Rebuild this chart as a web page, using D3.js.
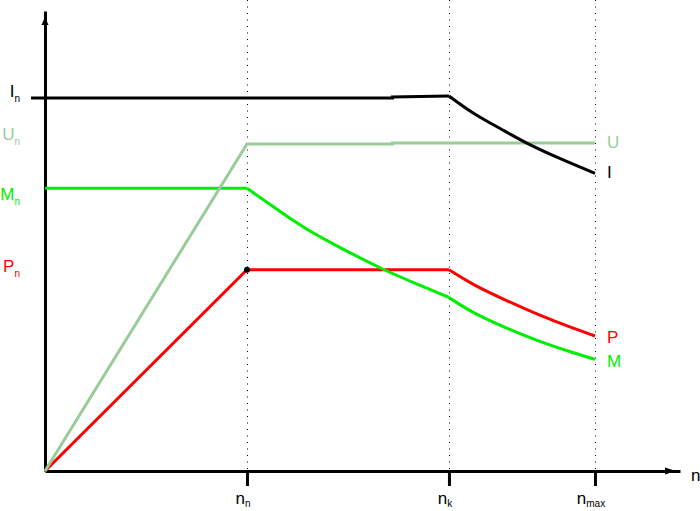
<!DOCTYPE html>
<html><head><meta charset="utf-8">
<script src="https://cdn.jsdelivr.net/npm/d3@7"></script>
<style>body{margin:0;background:#fff}svg{display:block}text{font-family:"Liberation Sans",Arial,sans-serif}</style>
</head><body>
<script>
// ---- data ----
const nTicks = [1, 2, 2.723];
const nTickLabels = ["n", "n", "n"];
const nTickSubs = ["n", "k", "max"];
const nAxisMax = 3.144;
const valueMax = 100;

const uLine  = [[0,0],[1,71.09],[1.72,71.09],[1.72,71.30],[2.723,71.30]];
const mFlat  = [[0,61.46],[1,61.46]];
const mCurve1 = [[1,61.46],[1.130,57.46],[1.2955,52.39],[1.460,48.59],[1.675,43.70],[1.873,40.07],[2,37.72]];
const mCurve2 = [[2,37.72],[2.120,34.28],[2.286,31.02],[2.450,28.11],[2.615,25.72],[2.723,24.28]];
const pLine  = [[0,0],[1,43.75],[2,43.75]];
const pCurve = [[2,43.75],[2.120,40.43],[2.286,37.02],[2.450,33.80],[2.615,31.02],[2.723,29.35]];
const iLine  = [[-0.069,81.09],[1.72,81.09],[1.72,81.30],[2,81.52]];
const iCurve = [[2,81.52],[2.120,77.61],[2.286,73.70],[2.385,71.20],[2.533,68.20],[2.723,64.72]];
const ratedPoint = [1, 43.75];

const leftNames  = ["I","U","M","P"];
const leftValues = [81.09, 71.09, 61.46, 43.75];
const rightNames  = ["U","I","P","M"];
const rightValues = [71.30, 64.72, 29.35, 24.28];
const colors = {I:"#000000", U:"#99cc99", M:"#00ee00", P:"#ff0000"};

// ---- drawing ----
const W = 700, H = 511;
const svg = d3.select("body").append("svg").attr("width", W).attr("height", H);
const x = d3.scaleLinear().domain([0, nAxisMax]).range([45, 680]);
const y = d3.scaleLinear().domain([0, valueMax]).range([471, 11]);

// dotted guide lines
svg.selectAll("line.guide").data(nTicks).join("line")
  .attr("class","guide")
  .attr("x1", d => Math.round(x(d)) + 0.5).attr("x2", d => Math.round(x(d)) + 0.5)
  .attr("y1", 0).attr("y2", y(0))
  .attr("stroke", "#000").attr("stroke-width", 1).attr("stroke-dasharray", "1,5.5");

// axes
const xAxis = d3.axisBottom(x).tickValues(nTicks).tickFormat("").tickSize(15).tickSizeOuter(0);
const gx = svg.append("g").attr("transform", `translate(0,${y(0)})`).call(xAxis);
gx.select(".domain").attr("stroke-width", 3);
gx.selectAll(".tick line").attr("stroke-width", 3);

const yAxis = d3.axisLeft(y).tickValues([]).tickSizeOuter(0);
const gy = svg.append("g").attr("transform", `translate(${x(0)},0)`).call(yAxis);
gy.select(".domain").attr("stroke-width", 3);

// arrowheads
svg.append("path").attr("d", `M${x(0)},${17} L${x(0)-3.5},${25} L${x(0)+3.5},${25} Z`).attr("fill","#000");
svg.append("path").attr("d", `M${676},${y(0)} L${665},${y(0)-3.5} L${665},${y(0)+3.5} Z`).attr("fill","#000");

// lines
const lin = d3.line().x(d => x(d[0])).y(d => y(d[1]));
const crv = d3.line().x(d => x(d[0])).y(d => y(d[1])).curve(d3.curveBasis);
function draw(data, gen, color) {
  svg.append("path").datum(data).attr("d", gen).attr("fill","none")
    .attr("stroke", color).attr("stroke-width", 3).attr("stroke-linejoin","miter");
}
draw(pLine, lin, colors.P);
draw(pCurve, crv, colors.P);
draw(mFlat, lin, colors.M);
draw(mCurve1, crv, colors.M);
draw(mCurve2, crv, colors.M);
draw(uLine, lin, colors.U);
draw(iLine, lin, colors.I);
draw(iCurve, crv, colors.I);

svg.append("circle").attr("cx", x(ratedPoint[0])).attr("cy", y(ratedPoint[1])).attr("r", 3).attr("fill","#000");

// left labels
const leftDy = {I:-1, U:-4, M:12, P:2};
leftNames.forEach((n, i) => {
  const t = svg.append("text").attr("x", 20).attr("y", y(leftValues[i]) + leftDy[n])
    .attr("text-anchor","end").attr("fill", colors[n]).attr("font-size", 17);
  t.append("tspan").text(n);
  t.append("tspan").attr("dy", 5).attr("font-size", 10).text("n");
});

// right labels
const rightDy = {U:5, I:5, P:7, M:8};
rightNames.forEach((n, i) => {
  svg.append("text").attr("x", 607).attr("y", y(rightValues[i]) + rightDy[n])
    .attr("fill", colors[n]).attr("font-size", 17).text(n);
});

// bottom tick labels
nTicks.forEach((v, i) => {
  const t = svg.append("text").attr("x", x(v) - 4).attr("y", 504)
    .attr("text-anchor","middle").attr("fill","#000").attr("font-size", 17);
  t.append("tspan").text(nTickLabels[i]);
  t.append("tspan").attr("dy", 3).attr("font-size", 10).text(nTickSubs[i]);
});

// axis name
svg.append("text").attr("x", 691).attr("y", 481).attr("font-size", 17).attr("fill","#000").text("n");
</script>
</body></html>
